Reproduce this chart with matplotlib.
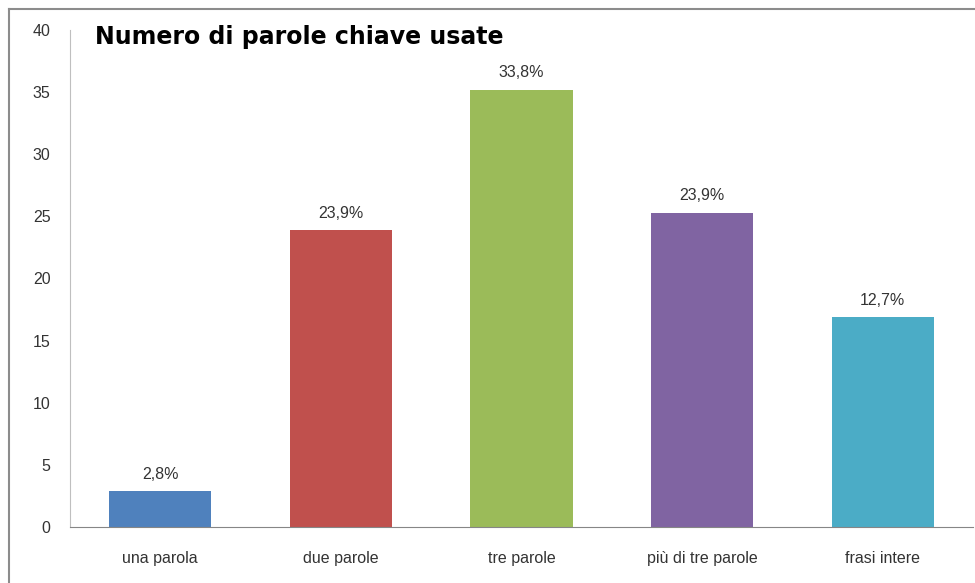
import matplotlib.pyplot as plt
from matplotlib.lines import Line2D

categorie = ["una parola", "due parole", "tre parole", "più di tre parole", "frasi intere"]
valori = [2.9, 23.9, 35.2, 25.3, 16.9]
etichette = ["2,8%", "23,9%", "33,8%", "23,9%", "12,7%"]
colori = ["#4F81BD", "#C0504D", "#9BBB59", "#8064A2", "#4BACC6"]

plt.rcParams['font.family'] = ['Liberation Sans', 'DejaVu Sans']

fig = plt.figure(figsize=(9.75, 5.83), dpi=100)
ax = fig.add_axes([70/975, 56/583, 903/975, 497/583])

x = range(len(categorie))
ax.bar(x, valori, width=0.565, color=colori)
for i, v in enumerate(valori):
    ax.text(i, v + 0.75, etichette[i], ha="center", va="bottom", fontsize=11.5, color="#333333")

ax.set_xlim(-0.5, 4.5)
ax.set_ylim(0, 40)
ax.set_yticks(range(0, 41, 5))
ax.set_xticks(list(x))
ax.set_xticklabels(categorie)
ax.tick_params(axis="both", length=0, labelsize=11.5, colors="#333333")
ax.tick_params(axis="y", pad=14)
ax.tick_params(axis="x", pad=17)

ax.spines["top"].set_visible(False)
ax.spines["right"].set_visible(False)
ax.spines["left"].set_color("#BFBFBF")
ax.spines["bottom"].set_color("#868686")

fig.text(95/975, 1 - 37/583, "Numero di parole chiave usate", fontsize=17, fontweight="bold",
         family="DejaVu Sans", ha="left", va="center", color="black")

# bordo esterno del grafico
fig.add_artist(Line2D([9/975, 9/975], [0, 1 - 9/583], transform=fig.transFigure, color="#8C8C8C", lw=1.5))
fig.add_artist(Line2D([9/975, 1], [1 - 9/583, 1 - 9/583], transform=fig.transFigure, color="#8C8C8C", lw=1.5))

fig.savefig("out.png", dpi=100)
